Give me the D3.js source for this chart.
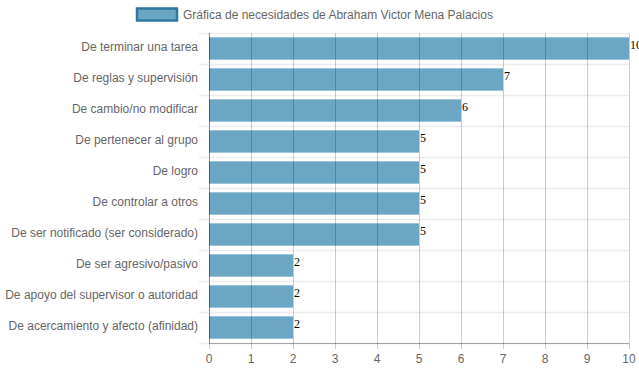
<!DOCTYPE html>
<html><head><meta charset="utf-8">
<script src="https://cdn.jsdelivr.net/npm/d3@7"></script>
<style>body{margin:0;background:#fff}svg{display:block}</style>
</head><body><svg id="c" width="639" height="372"></svg>
<script>
const categories = ["De terminar una tarea","De reglas y supervisión","De cambio/no modificar","De pertenecer al grupo","De logro","De controlar a otros","De ser notificado (ser considerado)","De ser agresivo/pasivo","De apoyo del supervisor o autoridad","De acercamiento y afecto (afinidad)"];
const values = [10,7,6,5,5,5,5,2,2,2];
const xTicks = [0,1,2,3,4,5,6,7,8,9,10];
const seriesName = "Gráfica de necesidades de Abraham Victor Mena Palacios";

const svg = d3.select("#c");
const L = 209, R = 629, T = 33, B = 343;
const x = d3.scaleLinear().domain([0,10]).range([L,R]);
const y = d3.scaleBand().domain(categories).range([T,B]);
const barH = y.bandwidth()*0.72;
const font = "Liberation Sans, Arial, sans-serif";

// horizontal grid at band boundaries
const bounds = categories.map(c=>y(c)).concat([B]);
svg.append("g").selectAll("line").data(bounds).join("line")
  .attr("x1",L-10).attr("x2",R).attr("y1",d=>d+0.5).attr("y2",d=>d+0.5)
  .attr("stroke","#ececec").attr("stroke-width",1.5);

// bars
svg.append("g").selectAll("rect").data(values).join("rect")
  .attr("x",x(0)).attr("width",d=>x(d)-x(0))
  .attr("y",(d,i)=>y(categories[i])+(y.bandwidth()-barH)/2).attr("height",barH)
  .attr("fill","#6ba6c5");

// vertical grid over bars
svg.append("g").selectAll("line").data(xTicks).join("line")
  .attr("x1",d=>Math.round(x(d))+0.5).attr("x2",d=>Math.round(x(d))+0.5)
  .attr("y1",T).attr("y2",B+6)
  .attr("stroke","rgba(0,0,0,0.2)").attr("stroke-width",1);

// axes lines
svg.append("line").attr("x1",L+0.5).attr("x2",L+0.5).attr("y1",T).attr("y2",B)
  .attr("stroke","rgba(0,0,0,0.3)");
svg.append("line").attr("x1",L).attr("x2",R).attr("y1",B+0.5).attr("y2",B+0.5)
  .attr("stroke","rgba(0,0,0,0.3)");

// x tick labels
svg.append("g").selectAll("text").data(xTicks).join("text")
  .attr("x",d=>x(d)).attr("y",363).attr("text-anchor","middle")
  .attr("font-family",font).attr("font-size",12).attr("fill","#666").text(d=>d);

// y labels
svg.append("g").selectAll("text").data(categories).join("text")
  .attr("x",198).attr("y",d=>y(d)+y.bandwidth()/2+2.5).attr("text-anchor","end")
  .attr("font-family",font).attr("font-size",12).attr("fill","#666").text(d=>d);

// value labels
svg.append("g").selectAll("text").data(values).join("text")
  .attr("x",d=>x(d)+1).attr("y",(d,i)=>y(categories[i])+y.bandwidth()/2)
  .attr("font-family","Liberation Serif, Times New Roman, serif").attr("font-size",12).attr("fill","#000").text(d=>d);

// legend
svg.append("rect").attr("x",137).attr("y",8.5).attr("width",40).attr("height",12)
  .attr("fill","#6ba6c5").attr("stroke","#2f78a3").attr("stroke-width",2.5);
svg.append("text").attr("x",183).attr("y",19).attr("font-family",font).attr("font-size",12)
  .attr("fill","#666").text(seriesName);
</script></body></html>
